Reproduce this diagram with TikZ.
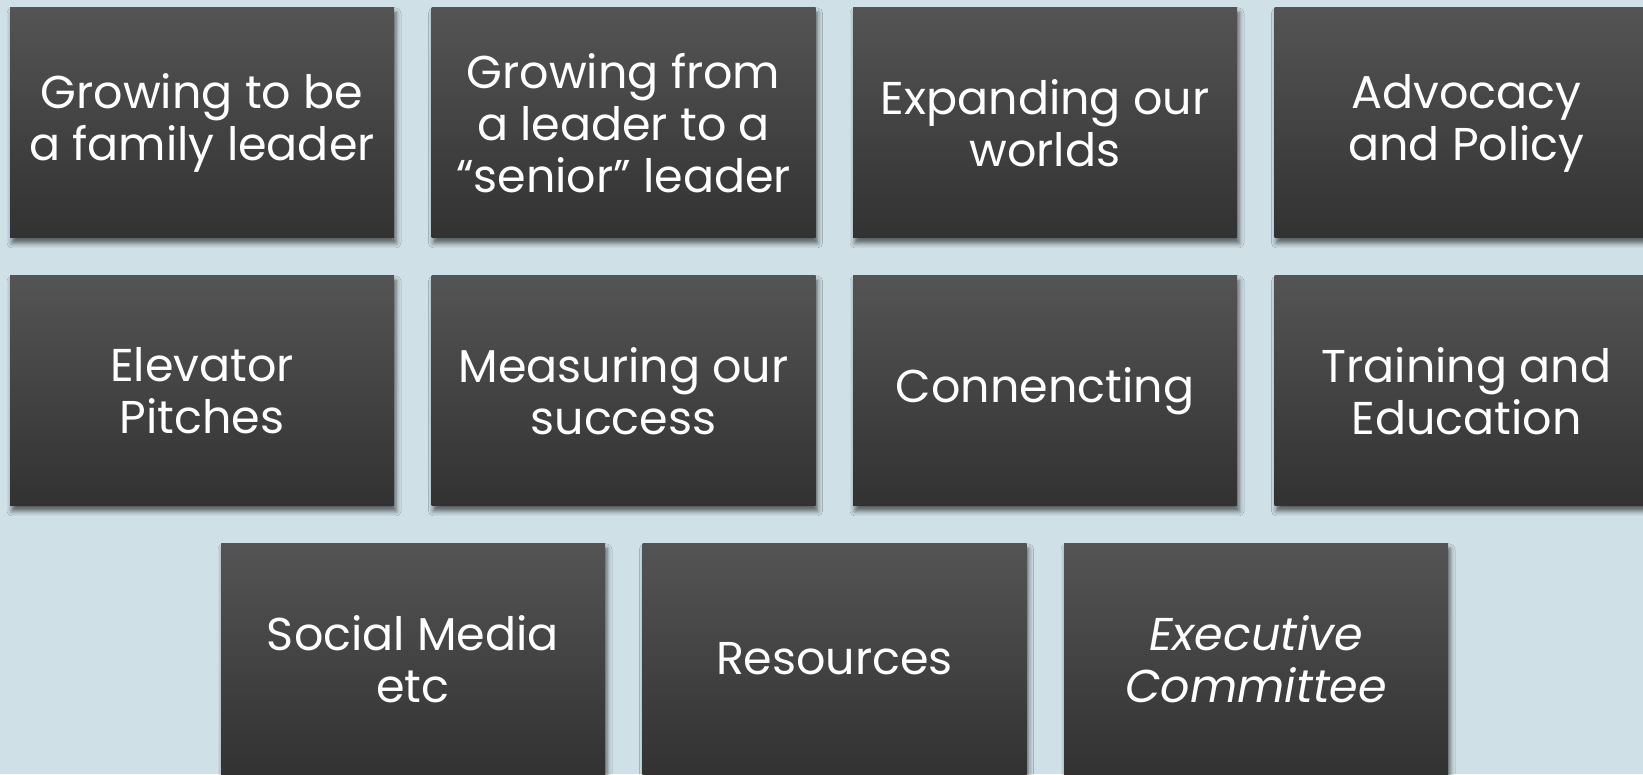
\documentclass[tikz,border=0pt]{standalone}
\usepackage{fontspec}
\setmainfont{Poppins}
\usetikzlibrary{positioning, shadows.blur}
\definecolor{backdrop}{HTML}{CFE1E7}
\definecolor{tiletop}{HTML}{545454}
\definecolor{tilebottom}{HTML}{323232}
\tikzstyle{tile} = [
    rectangle,
    minimum width=384pt,
    minimum height=230pt,
    inner sep=0pt,
    outer sep=0pt,
    align=center,
    text=white,
    top color=tiletop,
    bottom color=tilebottom,
    font=\fontsize{46}{52}\selectfont,
    blur shadow={shadow xshift=2pt, shadow yshift=-5pt,
                 shadow blur radius=5pt, shadow opacity=60}
]

\begin{document}
\begin{tikzpicture}[x=1pt, y=1pt, node distance=38pt and 37.5pt]

\fill[backdrop] (0,0) rectangle (1643,774);
\clip (0,0) rectangle (1643,774);

% first row
\node (family)   [tile] at (202,651) {Growing to be\\a family leader};
\node (senior)   [tile, right=of family] {Growing from\\a leader to a\\“senior” leader};
\node (worlds)   [tile, right=of senior] {Expanding our\\worlds};
\node (advocacy) [tile, right=of worlds] {Advocacy\\and Policy};

% second row
\node (pitches)  [tile, below=of family] {Elevator\\Pitches};
\node (success)  [tile, below=of senior] {Measuring our\\success};
\node (connect)  [tile, below=of worlds] {Connencting};
\node (training) [tile, below=of advocacy] {Training and\\Education};

% third row, shifted by half a tile
\node (social)   [tile, below=of pitches, xshift=211pt] {Social Media\\etc};
\node (resource) [tile, right=of social] {Resources};
\node (exec)     [tile, right=of resource, font=\fontsize{46}{52}\selectfont\itshape] {Executive\\Committee};

\end{tikzpicture}
\end{document}
